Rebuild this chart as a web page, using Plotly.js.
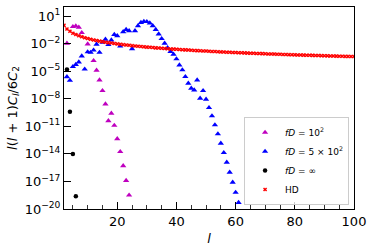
<!DOCTYPE html>
<html>
<head>
<meta charset="utf-8">
<script src="https://cdn.plot.ly/plotly-3.0.1.min.js"></script>
<style>html,body{margin:0;padding:0;background:#fff;}#chart{width:374px;height:250px;}</style>
</head>
<body>
<div id="chart"></div>
<script>
// ---- data (log10 of l(l+1)C_l/6C_2) ----
var lMag = [3, 5, 6, 7, 8, 10, 12, 13, 14, 15, 16, 17, 18, 19, 20, 21, 22, 23, 24];
var expMag = [-1.96, -0.14, -0.07, -0.21, -0.8, -2.03, -3.85, -4.9, -5.95, -7.12, -8.57, -10.4, -9.58, -10.9, -12.35, -13.76, -15.3, -16.9, -18.5];

var lBlue = [3, 4, 5, 6, 7, 8, 9, 10, 11, 12, 13, 14, 15, 16, 17, 18, 19, 20, 21, 22, 23, 24, 25, 26, 27, 28, 29, 30, 31, 32, 33, 34, 35, 36, 37, 38, 39, 40, 41, 42, 43, 44, 45, 46, 47, 48, 49, 50, 51, 52, 53, 54, 55, 56, 57, 58, 59, 60, 61];
var expBlue = [-5.6, -6.0, -4.5, -4.27, -4.0, -3.35, -4.77, -2.89, -2.95, -2.7, -2.06, -2.95, -1.86, -1.52, -2.1, -1.6, -1.0, -1.14, -2.25, -0.7, -0.45, -0.6, -2.55, -0.6, -0.05, 0.3, 0.42, 0.4, 0.25, -0.05, -0.45, -0.95, -1.45, -1.95, -2.45, -2.85, -3.15, -3.66, -4.32, -4.86, -5.59, -6.31, -6.86, -7.04, -5.95, -7.95, -7.12, -8.05, -8.97, -9.87, -10.85, -11.83, -12.85, -13.87, -14.92, -16.0, -17.1, -18.2, -19.3];

var lInf = [3, 4, 5, 6];
var expInf = [-4.8, -9.4, -14.0, -18.6];

var lHD = [];
for (var i = 2; i <= 100; i++) lHD.push(i);
var expHD = [0, -0.40, -0.65, -0.85, -1.00, -1.13, -1.24, -1.34, -1.43, -1.51, -1.59, -1.65, -1.72, -1.77, -1.83, -1.88, -1.93, -1.98, -2.02,
  -2.06, -2.10, -2.14, -2.17, -2.21, -2.24, -2.28, -2.31, -2.34, -2.37, -2.39, -2.42, -2.45, -2.47, -2.50, -2.52, -2.55, -2.57, -2.59, -2.61,
  -2.63, -2.65, -2.67, -2.69, -2.71, -2.73, -2.75, -2.77, -2.79, -2.80, -2.82, -2.84, -2.85, -2.87, -2.89, -2.90, -2.92, -2.93, -2.95, -2.96,
  -2.98, -2.99, -3.00, -3.02, -3.03, -3.04, -3.06, -3.07, -3.08, -3.09, -3.11, -3.12, -3.13, -3.14, -3.15, -3.17, -3.18, -3.19, -3.20, -3.21,
  -3.22, -3.23, -3.24, -3.25, -3.26, -3.27, -3.28, -3.29, -3.30, -3.31, -3.32, -3.33, -3.34, -3.35, -3.36, -3.37, -3.38, -3.38, -3.39, -3.40];

var yTickExp = [1, -2, -5, -8, -11, -14, -17, -20];
var yTickText = ["10<sup>1</sup>", "10<sup>\u22122</sup>", "10<sup>\u22125</sup>", "10<sup>\u22128</sup>", "10<sup>\u221211</sup>", "10<sup>\u221214</sup>", "10<sup>\u221217</sup>", "10<sup>\u221220</sup>"];
var xTickVals = [20, 40, 60, 80, 100];

function pw(a) { return a.map(function (e) { return Math.pow(10, e); }); }

var FONT = "DejaVu Sans, sans-serif";

var traces = [
  { x: lMag, y: pw(expMag), mode: 'markers', type: 'scatter', name: '<i>fD</i> = 10<sup>2</sup>',
    marker: { symbol: 'triangle-up', size: 5.5, color: '#bf00bf' } },
  { x: lBlue, y: pw(expBlue), mode: 'markers', type: 'scatter', name: '<i>fD</i> = 5 \u00d7 10<sup>2</sup>',
    marker: { symbol: 'triangle-up', size: 5.5, color: '#0000ff' } },
  { x: lInf, y: pw(expInf), mode: 'markers', type: 'scatter', name: '<i>fD</i> = \u221e',
    marker: { symbol: 'circle', size: 4.5, color: '#000000' } },
  { x: lHD, y: pw(expHD), mode: 'markers', type: 'scatter', name: 'HD',
    marker: { symbol: 'x', size: 3.6, color: '#ff0000', line: { width: 0 } } }
];

var layout = {
  width: 374, height: 250,
  margin: { l: 64, r: 20, t: 7, b: 41, pad: 0 },
  paper_bgcolor: '#ffffff', plot_bgcolor: '#ffffff',
  font: { family: FONT, size: 13, color: '#000' },
  showlegend: true,
  legend: {
    x: 0.983, y: 0.02, xanchor: 'right', yanchor: 'bottom',
    bgcolor: 'rgba(255,255,255,0.8)', bordercolor: '#cccccc', borderwidth: 1,
    font: { family: FONT, size: 9, color: '#000' },
    itemwidth: 30, tracegroupgap: 0
  },
  xaxis: {
    type: 'linear', range: [2, 100], showgrid: false, zeroline: false,
    showline: true, mirror: true, linecolor: '#000', linewidth: 1,
    ticks: 'inside', ticklen: 7, tickwidth: 1, tickcolor: '#000',
    tickmode: 'array', tickvals: xTickVals,
    minor: { ticks: 'inside', ticklen: 4, tickwidth: 0.8, tickcolor: '#000', dtick: 5, tick0: 0, showgrid: false },
    tickfont: { family: FONT, size: 13 },
    title: { text: '<i>l</i>', font: { family: FONT, size: 13 }, standoff: 6 }
  },
  yaxis: {
    type: 'log', range: [-20, 2], showgrid: false, zeroline: false,
    showline: true, mirror: true, linecolor: '#000', linewidth: 1,
    ticks: 'inside', ticklen: 7, tickwidth: 1, tickcolor: '#000',
    tickmode: 'array', tickvals: pw(yTickExp), ticktext: yTickText,
    tickfont: { family: FONT, size: 13 },
    title: { text: '<i>l</i>(<i>l</i> + 1)<i>C<sub>l</sub></i>/6<i>C</i><sub>2</sub>', font: { family: FONT, size: 13 }, standoff: 4 }
  }
};

Plotly.newPlot('chart', traces, layout, { staticPlot: true, displayModeBar: false });
</script>
</body>
</html>
